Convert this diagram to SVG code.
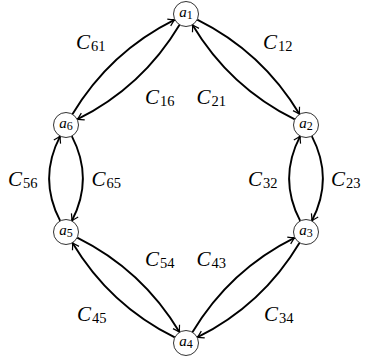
<svg xmlns="http://www.w3.org/2000/svg" width="376" height="359" viewBox="0 0 376 359">
<style>
.edge{fill:none;stroke:#000;stroke-width:1.9;marker-end:url(#arr)}
.node circle{fill:#fff;stroke:#333;stroke-width:1}
</style>
<defs>
<marker id="arr" viewBox="-8 -5 10 10" refX="0" refY="0" markerWidth="10" markerHeight="10" markerUnits="userSpaceOnUse" orient="auto">
<path d="M-6.5,-3.8 Q-2,-0.8 0,0 Q-2,0.8 -6.5,3.8" fill="none" stroke="#000" stroke-width="1.2"/>
</marker>
</defs>
<g id="connectors">
<path class="edge" d="M197.2,19.56 Q262.3,51.88 299.59,114.27"/>
<path class="edge" d="M294.8,119.44 Q229.7,87.12 192.41,24.73"/>
<path class="edge" d="M72.41,114.27 Q109.7,51.88 174.8,19.56"/>
<path class="edge" d="M179.59,24.73 Q142.3,87.12 77.2,119.44"/>
<path class="edge" d="M311.8,136.08 Q334,178.5 311.8,220.92"/>
<path class="edge" d="M300.2,220.92 Q278,178.5 300.2,136.08"/>
<path class="edge" d="M60.2,220.92 Q38,178.5 60.2,136.08"/>
<path class="edge" d="M71.8,136.08 Q94,178.5 71.8,220.92"/>
<path class="edge" d="M299.59,242.73 Q262.3,305.12 197.2,337.44"/>
<path class="edge" d="M192.41,332.27 Q229.7,269.88 294.8,237.56"/>
<path class="edge" d="M174.8,337.44 Q109.7,305.12 72.41,242.73"/>
<path class="edge" d="M77.2,237.56 Q142.3,269.88 179.59,332.27"/>
</g>
<g id="labels" font-family="Liberation Serif, serif" font-size="21" font-style="italic" fill="#000">
<text x="76" y="49">C<tspan font-style="normal" font-size="14.5" dy="2" dx="1">61</tspan></text>
<text x="263" y="48.5">C<tspan font-style="normal" font-size="14.5" dy="2" dx="1">12</tspan></text>
<text x="145" y="104">C<tspan font-style="normal" font-size="14.5" dy="2" dx="1">16</tspan></text>
<text x="196.5" y="104">C<tspan font-style="normal" font-size="14.5" dy="2" dx="1">21</tspan></text>
<text x="8" y="185.5">C<tspan font-style="normal" font-size="14.5" dy="2" dx="1">56</tspan></text>
<text x="91.5" y="185.5">C<tspan font-style="normal" font-size="14.5" dy="2" dx="1">65</tspan></text>
<text x="248" y="185.5">C<tspan font-style="normal" font-size="14.5" dy="2" dx="1">32</tspan></text>
<text x="331" y="185.5">C<tspan font-style="normal" font-size="14.5" dy="2" dx="1">23</tspan></text>
<text x="145" y="266">C<tspan font-style="normal" font-size="14.5" dy="2" dx="1">54</tspan></text>
<text x="196.5" y="266">C<tspan font-style="normal" font-size="14.5" dy="2" dx="1">43</tspan></text>
<text x="77" y="321">C<tspan font-style="normal" font-size="14.5" dy="2" dx="1">45</tspan></text>
<text x="264" y="321">C<tspan font-style="normal" font-size="14.5" dy="2" dx="1">34</tspan></text>
</g>
<g font-family="Liberation Serif, serif" font-size="15" font-style="italic" fill="#000" text-anchor="middle">
<g id="a1" class="node"><circle cx="186" cy="14" r="12.5"/><text x="186" y="17">a<tspan font-style="normal" font-size="12" dy="1.5">1</tspan></text></g>
<g id="a2" class="node"><circle cx="306" cy="125" r="12.5"/><text x="306" y="128">a<tspan font-style="normal" font-size="12" dy="1.5">2</tspan></text></g>
<g id="a3" class="node"><circle cx="306" cy="232" r="12.5"/><text x="306" y="235">a<tspan font-style="normal" font-size="12" dy="1.5">3</tspan></text></g>
<g id="a4" class="node"><circle cx="186" cy="343" r="12.5"/><text x="186" y="346">a<tspan font-style="normal" font-size="12" dy="1.5">4</tspan></text></g>
<g id="a5" class="node"><circle cx="66" cy="232" r="12.5"/><text x="66" y="235">a<tspan font-style="normal" font-size="12" dy="1.5">5</tspan></text></g>
<g id="a6" class="node"><circle cx="66" cy="125" r="12.5"/><text x="66" y="128">a<tspan font-style="normal" font-size="12" dy="1.5">6</tspan></text></g>
</g>
</svg>
